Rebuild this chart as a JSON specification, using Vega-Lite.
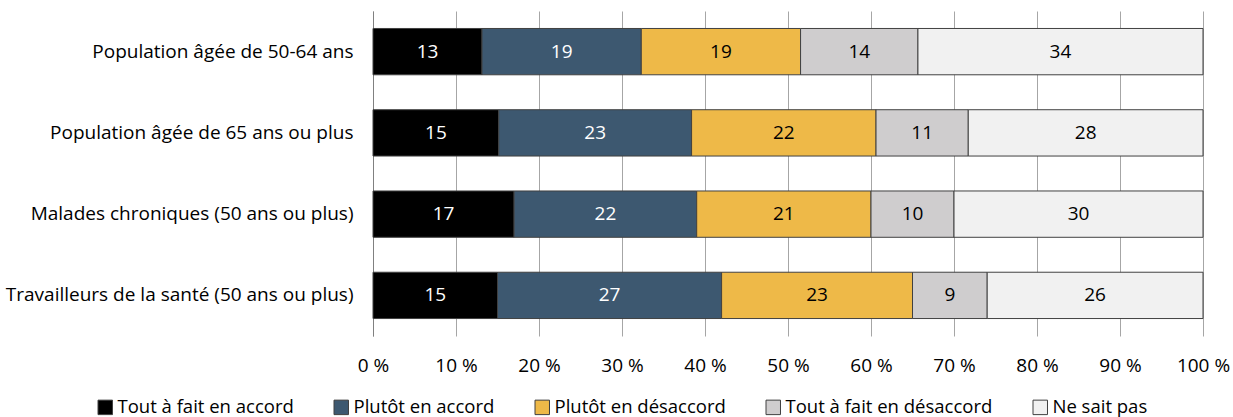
{
  "$schema": "https://vega.github.io/schema/vega-lite/v6.json",
  "autosize": {"type": "none"},
  "padding": {"left": 373, "top": 11, "right": 30, "bottom": 81},
  "width": 830,
  "height": 325,
  "background": "white",
  "config": {
    "font": "Open Sans",
    "view": {"stroke": null}
  },
  "data": {
    "values": [
      {"groupe": "Population âgée de 50-64 ans", "reponse": "Tout à fait en accord", "ordre": 1, "valeur": 13},
      {"groupe": "Population âgée de 50-64 ans", "reponse": "Plutôt en accord", "ordre": 2, "valeur": 19},
      {"groupe": "Population âgée de 50-64 ans", "reponse": "Plutôt en désaccord", "ordre": 3, "valeur": 19},
      {"groupe": "Population âgée de 50-64 ans", "reponse": "Tout à fait en désaccord", "ordre": 4, "valeur": 14},
      {"groupe": "Population âgée de 50-64 ans", "reponse": "Ne sait pas", "ordre": 5, "valeur": 34},
      {"groupe": "Population âgée de 65 ans ou plus", "reponse": "Tout à fait en accord", "ordre": 1, "valeur": 15},
      {"groupe": "Population âgée de 65 ans ou plus", "reponse": "Plutôt en accord", "ordre": 2, "valeur": 23},
      {"groupe": "Population âgée de 65 ans ou plus", "reponse": "Plutôt en désaccord", "ordre": 3, "valeur": 22},
      {"groupe": "Population âgée de 65 ans ou plus", "reponse": "Tout à fait en désaccord", "ordre": 4, "valeur": 11},
      {"groupe": "Population âgée de 65 ans ou plus", "reponse": "Ne sait pas", "ordre": 5, "valeur": 28},
      {"groupe": "Malades chroniques (50 ans ou plus)", "reponse": "Tout à fait en accord", "ordre": 1, "valeur": 17},
      {"groupe": "Malades chroniques (50 ans ou plus)", "reponse": "Plutôt en accord", "ordre": 2, "valeur": 22},
      {"groupe": "Malades chroniques (50 ans ou plus)", "reponse": "Plutôt en désaccord", "ordre": 3, "valeur": 21},
      {"groupe": "Malades chroniques (50 ans ou plus)", "reponse": "Tout à fait en désaccord", "ordre": 4, "valeur": 10},
      {"groupe": "Malades chroniques (50 ans ou plus)", "reponse": "Ne sait pas", "ordre": 5, "valeur": 30},
      {"groupe": "Travailleurs de la santé (50 ans ou plus)", "reponse": "Tout à fait en accord", "ordre": 1, "valeur": 15},
      {"groupe": "Travailleurs de la santé (50 ans ou plus)", "reponse": "Plutôt en accord", "ordre": 2, "valeur": 27},
      {"groupe": "Travailleurs de la santé (50 ans ou plus)", "reponse": "Plutôt en désaccord", "ordre": 3, "valeur": 23},
      {"groupe": "Travailleurs de la santé (50 ans ou plus)", "reponse": "Tout à fait en désaccord", "ordre": 4, "valeur": 9},
      {"groupe": "Travailleurs de la santé (50 ans ou plus)", "reponse": "Ne sait pas", "ordre": 5, "valeur": 26}
    ]
  },
  "transform": [
    {"stack": "valeur", "groupby": ["groupe"], "sort": [{"field": "ordre", "order": "ascending"}], "offset": "normalize", "as": ["v0", "v1"]},
    {"calculate": "(datum.v0 + datum.v1) / 2", "as": "milieu"}
  ],
  "encoding": {
    "y": {
      "field": "groupe",
      "type": "nominal",
      "sort": null,
      "title": null,
      "scale": {"paddingInner": 0.43, "paddingOuter": 0.215},
      "axis": {
        "ticks": false,
        "domain": true,
        "domainColor": "#808080",
        "labelFontSize": 19,
        "labelColor": "#000000",
        "labelPadding": 20,
        "labelLimit": 400,
        "labelFont": "Open Sans"
      }
    }
  },
  "layer": [
    {
      "mark": {"type": "bar", "stroke": "#404040", "strokeWidth": 1},
      "encoding": {
        "x": {
          "field": "v0",
          "type": "quantitative",
          "scale": {"domain": [0, 1], "nice": false},
          "title": null,
          "axis": {
            "values": [0, 0.1, 0.2, 0.3, 0.4, 0.5, 0.6, 0.7, 0.8, 0.9, 1],
            "labelExpr": "round(datum.value * 100) + ' %'",
            "labelFlush": false,
            "labelOverlap": false,
            "grid": true,
            "gridColor": "#a6a6a6",
            "gridWidth": 1,
            "domain": false,
            "ticks": false,
            "labelFontSize": 19,
            "labelColor": "#000000",
            "labelPadding": 20,
            "labelFont": "Open Sans"
          }
        },
        "x2": {"field": "v1"},
        "color": {
          "field": "reponse",
          "type": "nominal",
          "scale": {
            "domain": ["Tout à fait en accord", "Plutôt en accord", "Plutôt en désaccord", "Tout à fait en désaccord", "Ne sait pas"],
            "range": ["#000000", "#3d5870", "#eeb948", "#cfcdce", "#f1f1f1"]
          },
          "legend": {
            "title": null,
            "orient": "none",
            "direction": "horizontal",
            "legendX": -277,
            "legendY": 387,
            "symbolType": "square",
            "symbolSize": 210,
            "symbolStrokeColor": "#404040",
            "symbolStrokeWidth": 1,
            "symbolOpacity": 1,
            "labelFontSize": 18.5,
            "labelColor": "#000000",
            "labelFont": "Open Sans",
            "labelOffset": 3,
            "columnPadding": 38,
            "labelLimit": 300
          }
        }
      }
    },
    {
      "mark": {"type": "text", "fontSize": 19, "font": "Open Sans", "baseline": "middle"},
      "encoding": {
        "x": {"field": "milieu", "type": "quantitative"},
        "text": {"field": "valeur", "type": "quantitative"},
        "color": {
          "condition": {"test": "datum.ordre <= 2", "value": "#ffffff"},
          "value": "#000000"
        }
      }
    }
  ]
}
